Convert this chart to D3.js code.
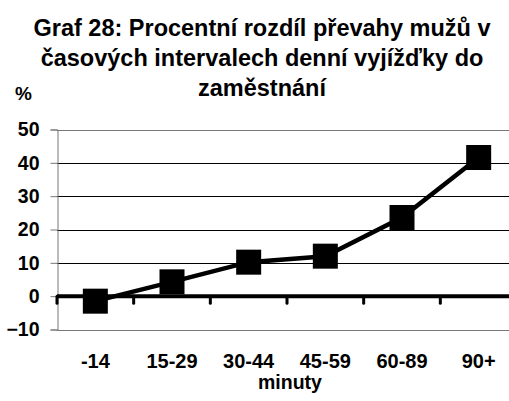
<!DOCTYPE html>
<html>
<head>
<meta charset="utf-8">
<script src="https://cdn.jsdelivr.net/npm/d3@7"></script>
<style>
	body { margin: 0; background: #fff; }
	svg { display: block; }
	text { font-family: "Liberation Sans", Arial, sans-serif; font-weight: bold; fill: #000; }
</style>
</head>
<body>
<svg width="509" height="401"></svg>
<script>
var titleLines = ["Graf 28: Procentní rozdíl převahy mužů v", "časových intervalech denní vyjížďky do", "zaměstnání"];
var categories = ["-14", "15-29", "30-44", "45-59", "60-89", "90+"];
var values = [-1.5, 4.3, 10.2, 12, 23.6, 41.6];
var yTicks = [-10, 0, 10, 20, 30, 40, 50];

var svg = d3.select("svg");
var plotL = 57, plotR = 517, plotT = 129.5, plotB = 329.5;

var x = d3.scaleBand().domain(categories).range([plotL, plotR]);
var y = d3.scaleLinear().domain([-10, 50]).range([plotB, plotT]);

// title
svg.append("g").selectAll("text").data(titleLines).enter().append("text")
	.attr("x", 262).attr("y", function(d, i) { return 36 + i * 30; })
	.attr("text-anchor", "middle").style("font-size", "23.5px")
	.text(function(d) { return d; });

svg.append("text").attr("x", 15).attr("y", 100).style("font-size", "19px").text("%");

// grid
svg.append("g").selectAll("line").data(yTicks.filter(function(d) { return d != 0; })).enter().append("line")
	.attr("x1", plotL).attr("x2", plotR)
	.attr("y1", function(d) { return Math.round(y(d)) + 0.5; }).attr("y2", function(d) { return Math.round(y(d)) + 0.5; })
	.attr("stroke", function(d) { return (d == 50 || d == -10) ? "#777" : "#000"; })
	.attr("stroke-width", 1);

// y axis
var yAxis = svg.append("g").attr("transform", "translate(" + (plotL + 0.5) + ",0)")
	.call(d3.axisLeft(y).tickValues(yTicks).tickSize(7).tickPadding(11));
yAxis.select(".domain").attr("stroke", "#777");
yAxis.selectAll(".tick line").attr("stroke", "#777");
yAxis.selectAll(".tick text").style("font-size", "19.5px").style("font-family", "Liberation Sans, Arial, sans-serif").attr("fill", "#000");

// zero line with category ticks
var bounds = categories.map(function(c) { return x(c); });
svg.append("g").selectAll("line").data(bounds).enter().append("line")
	.attr("x1", function(d) { return d; }).attr("x2", function(d) { return d; })
	.attr("y1", y(0)).attr("y2", y(0) + 7)
	.attr("stroke", "#000").attr("stroke-width", 3).attr("stroke-linecap", "round");
svg.append("line").attr("x1", plotL).attr("x2", plotR).attr("y1", y(0)).attr("y2", y(0))
	.attr("stroke", "#000").attr("stroke-width", 4);

// x labels
svg.append("g").selectAll("text").data(categories).enter().append("text")
	.attr("x", function(d) { return x(d) + x.bandwidth() / 2; }).attr("y", 368)
	.attr("text-anchor", "middle").style("font-size", "20px")
	.text(function(d) { return d; });
svg.append("text").attr("x", 290).attr("y", 389).attr("text-anchor", "middle").style("font-size", "19.5px").text("minuty");

// series
var cx = function(d, i) { return x(categories[i]) + x.bandwidth() / 2; };
svg.append("path").datum(values)
	.attr("d", d3.line().x(cx).y(function(d) { return y(d); }))
	.attr("fill", "none").attr("stroke", "#000").attr("stroke-width", 4.5);
svg.append("g").selectAll("rect").data(values).enter().append("rect")
	.attr("x", function(d, i) { return cx(d, i) - 12.5; })
	.attr("y", function(d) { return y(d) - 12.5; })
	.attr("width", 25).attr("height", 25).attr("fill", "#000");
</script>
</body>
</html>
